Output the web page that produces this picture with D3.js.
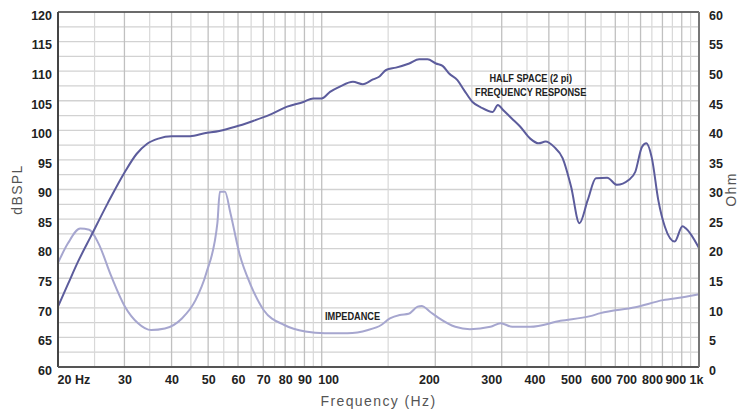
<!DOCTYPE html>
<html>
<head>
<meta charset="utf-8">
<script src="https://cdn.jsdelivr.net/npm/d3@7"></script>
<style>
  body { margin: 0; background: #fff; }
  svg { display: block; }
  .tick text { font-family: "Liberation Sans", Arial, sans-serif; font-weight: bold; font-size: 12.5px; fill: #222; }
</style>
</head>
<body>
<svg id="chart" width="740" height="410"></svg>
<script>
// frequency response (dB SPL, left axis)
var respFreq = [20, 21.25, 22.6, 24.4, 27.1, 30.1, 32.3, 34.4, 36.9, 40, 44.8, 48.9, 53.5, 59, 65.2, 72.7, 81, 89.4, 95, 100,
    105.2, 111.7, 121, 128.5, 136.7, 142.3, 148.1, 157.3, 170.6, 181.3, 190.7, 200.8, 209.1, 217.6, 228.9, 238.4, 251, 264, 284, 293,
    303, 319, 336, 357, 376, 392, 413, 435, 458, 482, 507, 533, 571, 606, 651, 678, 706, 725, 750, 780, 812, 862, 904, 924, 1000];
var respDb = [70.2, 74.0, 77.8, 82.0, 87.7, 93.0, 96.0, 97.7, 98.6, 99.0, 99.0, 99.5, 99.9, 100.6, 101.5, 102.6, 104.0, 104.8, 105.4, 105.4,
    106.5, 107.4, 108.2, 107.8, 108.6, 109.1, 110.2, 110.6, 111.3, 112.0, 112.0, 111.3, 110.9, 109.6, 108.5, 106.8, 104.8, 103.9, 103.1, 104.3,
    103.4, 102.0, 100.6, 98.6, 97.8, 98.1, 97.2, 95.3, 90.5, 84.3, 88.2, 91.9, 92.0, 90.8, 91.6, 93.0, 97.2, 97.8, 95.3, 88.2, 83.7, 81.2, 83.8, 83.4, 80.1];

// impedance (Ohm, right axis)
var impFreq = [20, 21.25, 22.9, 24.2, 25.6, 27.7, 30.1, 32.6, 35.3, 38.4, 42.6, 46.3, 49.4, 52.9, 53.7, 55.4, 57.3, 60.5, 65.1, 70.2,
    79.6, 90.5, 102, 117, 132.7, 143.8, 151.6, 161, 170, 179.6, 184, 194, 204, 226, 247, 280, 298, 320, 357, 429,
    515, 548, 678, 803, 906, 1000];
var impOhm = [17.6, 20.9, 23.4, 23.2, 20.9, 15.3, 10.2, 7.4, 6.25, 6.5, 8.2, 11.3, 15.8, 24.3, 29.6, 29.6, 26.0, 19.2, 13.6, 9.6,
    7.1, 6.0, 5.7, 5.7, 6.25, 7.1, 8.2, 8.8, 9.0, 10.2, 10.3, 9.3, 8.3, 6.8, 6.4, 6.8, 7.4, 6.8, 6.8, 7.8,
    8.6, 9.1, 10.1, 11.3, 11.8, 12.3];

var xTicks = [20, 30, 40, 50, 60, 70, 80, 90, 100, 200, 300, 400, 500, 600, 700, 800, 900, 1000];
var xTickLabels = ['20 Hz', '30', '40', '50', '60', '70', '80', '90', '100', '200', '300', '400', '500', '600', '700', '800', '900', '1k'];
var xMinor = [25, 35, 45, 55, 65, 75, 85, 95, 150, 250, 350, 450, 550, 650, 750, 850, 950];
var dbTicks = [60, 65, 70, 75, 80, 85, 90, 95, 100, 105, 110, 115, 120];
var ohmTicks = [0, 5, 10, 15, 20, 25, 30, 35, 40, 45, 50, 55, 60];

var svg = d3.select('#chart');
var margin = {top: 12, right: 41, bottom: 43, left: 58};
var width = 740 - margin.left - margin.right;
var height = 410 - margin.top - margin.bottom;
var g = svg.append('g').attr('transform', 'translate(' + margin.left + ',' + margin.top + ')');

var x = d3.scaleLog().domain([20, 1000]).range([0, width]);
var yDb = d3.scaleLinear().domain([60, 120]).range([height, 0]);
var yOhm = d3.scaleLinear().domain([0, 60]).range([height, 0]);

// grid - horizontal every 2.5 dB
var hGrid = d3.range(60, 120.1, 2.5);
g.append('g').selectAll('line').data(hGrid).enter().append('line')
    .attr('x1', 0).attr('x2', width)
    .attr('y1', function(d) { return yDb(d); }).attr('y2', function(d) { return yDb(d); })
    .attr('stroke', '#d2d2d2').attr('stroke-width', 1.3);

g.append('g').selectAll('line').data(xMinor).enter().append('line')
    .attr('x1', function(d) { return x(d); }).attr('x2', function(d) { return x(d); })
    .attr('y1', 0).attr('y2', height)
    .attr('stroke', '#d8d8d8').attr('stroke-width', 1.2);
g.append('g').selectAll('line').data(xTicks).enter().append('line')
    .attr('x1', function(d) { return x(d); }).attr('x2', function(d) { return x(d); })
    .attr('y1', 0).attr('y2', height)
    .attr('stroke', '#c0c0c0').attr('stroke-width', 1.3);

// lines
var respLine = d3.line()
    .x(function(d, i) { return x(respFreq[i]); })
    .y(function(d) { return yDb(d); })
    .curve(d3.curveMonotoneX);
var impLine = d3.line()
    .x(function(d, i) { return x(impFreq[i]); })
    .y(function(d) { return yOhm(d); })
    .curve(d3.curveMonotoneX);

g.append('path').datum(impOhm).attr('d', impLine)
    .attr('fill', 'none').attr('stroke', '#a6a6cf').attr('stroke-width', 2);
g.append('path').datum(respDb).attr('d', respLine)
    .attr('fill', 'none').attr('stroke', '#5c5c9c').attr('stroke-width', 2);

// frame
g.append('line').attr('x1', 0).attr('x2', width).attr('y1', 0).attr('y2', 0).attr('stroke', '#444').attr('stroke-width', 1.5);
g.append('line').attr('x1', 0).attr('x2', 0).attr('y1', 0).attr('y2', height).attr('stroke', '#444').attr('stroke-width', 2);
g.append('line').attr('x1', 0).attr('x2', width).attr('y1', height).attr('y2', height).attr('stroke', '#555').attr('stroke-width', 2);
g.append('line').attr('x1', width).attr('x2', width).attr('y1', 0).attr('y2', height).attr('stroke', '#777').attr('stroke-width', 2);

// axes
// small nudges of the x labels, as in the original print
function labelShift(d) {
    if (d === 20) return -1;
    if (d === 100) return -4;
    if (d === 200 || d >= 900) return 4;
    if (d >= 400 && d <= 700) return -4;
    return 0;
}
var xAxis = d3.axisBottom(x).tickValues(xTicks).tickSize(0).tickPadding(8.5)
    .tickFormat(function(d, i) { return xTickLabels[i]; });
var gx = g.append('g').attr('transform', 'translate(0,' + height + ')').call(xAxis);
gx.select('.domain').remove();
gx.selectAll('.tick text').attr('text-anchor', function(d) {
    if (d === 20 || d === 100) return 'start';
    return d > 100 ? 'end' : 'middle';
}).attr('dx', function(d) { return labelShift(d) + 'px'; });

var gyl = g.append('g').call(d3.axisLeft(yDb).tickValues(dbTicks).tickSize(0).tickPadding(6));
gyl.select('.domain').remove();
gyl.selectAll('.tick text').attr('dy', '0.58em');

var gyr = g.append('g').attr('transform', 'translate(' + width + ',0)')
    .call(d3.axisRight(yOhm).tickValues(ohmTicks).tickSize(0).tickPadding(10));
gyr.select('.domain').remove();
gyr.selectAll('.tick text').attr('dy', '0.58em');

// axis titles
function axisTitle(sel) {
    sel.attr('text-anchor', 'middle')
        .style('font-family', '"Liberation Sans", Arial, sans-serif').style('font-size', '14px')
        .style('letter-spacing', '1.4px').style('fill', '#555');
}
svg.append('text')
    .attr('x', margin.left + width / 2).attr('y', 406)
    .call(axisTitle)
    .text('Frequency (Hz)');
svg.append('text')
    .attr('transform', 'translate(22,' + (margin.top + height / 2) + ') rotate(-90)')
    .call(axisTitle)
    .text('dBSPL');
svg.append('text')
    .attr('transform', 'translate(736,' + (margin.top + height / 2) + ') rotate(-90)')
    .call(axisTitle)
    .text('Ohm');

// annotations (condensed bold)
function note(sel, size) {
    sel.style('font-family', '"Liberation Sans", Arial, sans-serif').style('font-weight', 'bold')
        .style('font-size', size + 'px').style('fill', '#222');
}
g.append('text')
    .attr('transform', 'translate(' + x(358) + ',' + yDb(108.1) + ') scale(0.8,1)')
    .attr('text-anchor', 'middle')
    .call(note, 11.5)
    .text('HALF SPACE (2 pi)');
g.append('text')
    .attr('transform', 'translate(' + x(358) + ',' + yDb(105.8) + ') scale(0.8,1)')
    .attr('text-anchor', 'middle')
    .call(note, 11.5)
    .text('FREQUENCY RESPONSE');
g.append('text')
    .attr('transform', 'translate(' + x(102) + ',' + yOhm(8.0) + ') scale(0.8,1)')
    .call(note, 11.5)
    .text('IMPEDANCE');
</script>
</body>
</html>
